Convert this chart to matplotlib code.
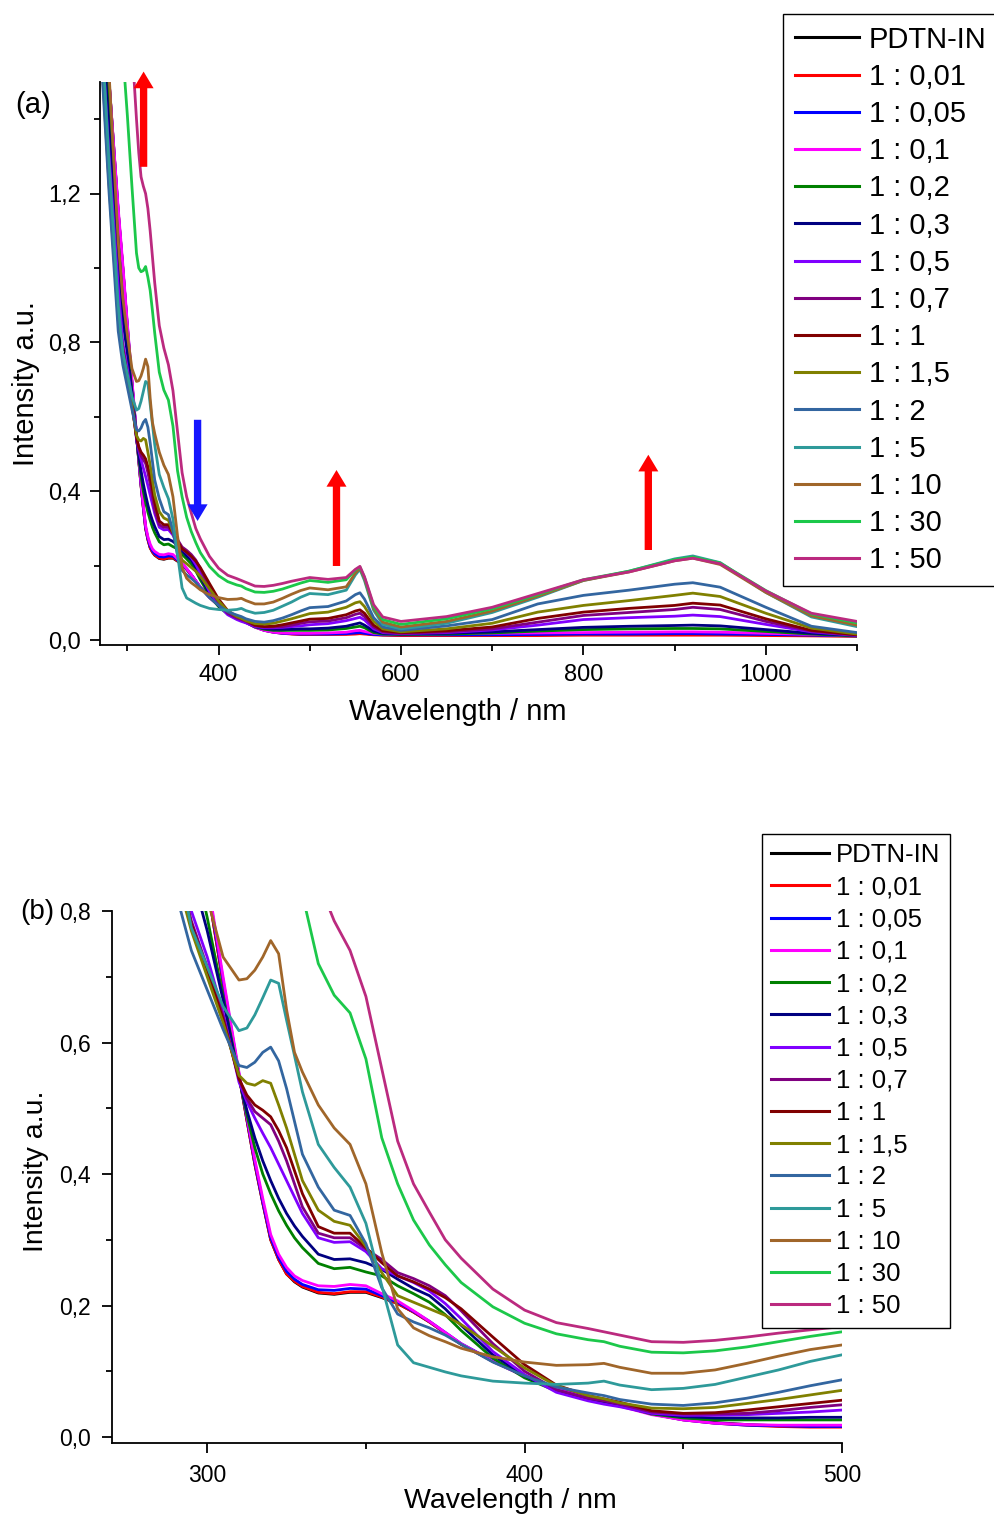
import matplotlib
matplotlib.use("Agg")
import matplotlib.pyplot as plt
from matplotlib.ticker import MultipleLocator, FuncFormatter

plt.rcParams['font.family'] = ['Liberation Sans', 'DejaVu Sans']

wavelength = [270, 280, 290, 295, 300, 305, 310, 312.5, 315, 317.5, 320, 322.5, 325, 327.5, 330,
              335, 340, 345, 350,
              355, 360, 365, 370, 375, 380, 390, 400, 410, 420, 425, 430, 440, 450, 460,
              470, 480, 490, 500, 520, 540, 550, 555, 560, 570, 580, 600, 650, 700, 750,
              800, 850, 900, 920, 950, 1000, 1050, 1100]

labels = ["PDTN-IN", "1 : 0,01", "1 : 0,05", "1 : 0,1", "1 : 0,2", "1 : 0,3", "1 : 0,5",
          "1 : 0,7", "1 : 1", "1 : 1,5", "1 : 2", "1 : 5", "1 : 10", "1 : 30", "1 : 50"]

colors = ["#000000", "#FF0000", "#0000FF", "#FF00FF", "#008000", "#000080", "#8000FF",
          "#800080", "#800000", "#808000", "#3366A0", "#2E9A9A", "#A0662A", "#1CC84A", "#BB2A7F"]

pdtn_in = [1.95, 1.50, 1.15, 1.00, 0.84, 0.69, 0.55, 0.482, 0.415, 0.356, 0.30, 0.27, 0.248, 0.236, 0.228,
           0.219, 0.217, 0.220, 0.220,
           0.212, 0.203, 0.19, 0.175, 0.158, 0.141, 0.115, 0.093, 0.074, 0.06, 0.054, 0.048, 0.036, 0.027, 0.022,
           0.019, 0.017, 0.016, 0.016, 0.016, 0.017, 0.018, 0.019, 0.018, 0.015, 0.014, 0.013, 0.013, 0.013, 0.014,
           0.015, 0.016, 0.017, 0.017, 0.016, 0.014, 0.012, 0.011]
r_0_01 = [1.95, 1.50, 1.15, 1.00, 0.84, 0.69, 0.55, 0.482, 0.415, 0.356, 0.30, 0.27, 0.248, 0.237, 0.229,
          0.220, 0.218, 0.221, 0.221,
          0.213, 0.203, 0.19, 0.175, 0.158, 0.141, 0.115, 0.093, 0.074, 0.06, 0.054, 0.048, 0.035, 0.026, 0.021,
          0.018, 0.016, 0.015, 0.015, 0.015, 0.015, 0.016, 0.017, 0.016, 0.014, 0.013, 0.012, 0.012, 0.012, 0.012,
          0.013, 0.013, 0.013, 0.013, 0.013, 0.012, 0.011, 0.010]
r_0_05 = [1.95, 1.50, 1.15, 1.00, 0.845, 0.695, 0.552, 0.485, 0.418, 0.358, 0.303, 0.273, 0.252, 0.24, 0.232,
          0.224, 0.223, 0.226, 0.225,
          0.215, 0.205, 0.191, 0.176, 0.159, 0.142, 0.116, 0.093, 0.074, 0.06, 0.054, 0.048, 0.035, 0.026, 0.021,
          0.018, 0.017, 0.016, 0.016, 0.016, 0.017, 0.019, 0.020, 0.018, 0.015, 0.014, 0.014, 0.014, 0.014, 0.015,
          0.016, 0.016, 0.017, 0.017, 0.016, 0.015, 0.013, 0.011]
r_0_1 = [1.95, 1.50, 1.16, 1.01, 0.85, 0.70, 0.555, 0.488, 0.422, 0.363, 0.308, 0.278, 0.258, 0.245, 0.238,
         0.230, 0.229, 0.232, 0.230,
         0.218, 0.207, 0.192, 0.176, 0.159, 0.142, 0.115, 0.092, 0.073, 0.059, 0.053, 0.047, 0.034, 0.026, 0.021,
         0.019, 0.018, 0.018, 0.018, 0.019, 0.021, 0.025, 0.026, 0.023, 0.018, 0.016, 0.016, 0.017, 0.018, 0.019,
         0.020, 0.021, 0.022, 0.022, 0.021, 0.018, 0.015, 0.012]
r_0_2 = [1.80, 1.42, 1.07, 0.90, 0.79, 0.67, 0.548, 0.49, 0.44, 0.40, 0.37, 0.344, 0.322, 0.303, 0.288,
         0.264, 0.256, 0.258, 0.251,
         0.245, 0.23, 0.218, 0.205, 0.186, 0.162, 0.12, 0.09, 0.07, 0.058, 0.054, 0.048, 0.035, 0.029, 0.026,
         0.026, 0.026, 0.026, 0.026, 0.027, 0.031, 0.035, 0.037, 0.033, 0.02, 0.016, 0.015, 0.016, 0.019, 0.024,
         0.028, 0.03, 0.031, 0.031, 0.03, 0.023, 0.016, 0.011]
r_0_3 = [1.75, 1.37, 1.02, 0.86, 0.77, 0.665, 0.545, 0.497, 0.455, 0.42, 0.39, 0.363, 0.34, 0.321, 0.305,
         0.278, 0.27, 0.271, 0.265,
         0.255, 0.24, 0.226, 0.215, 0.195, 0.17, 0.125, 0.093, 0.07, 0.058, 0.054, 0.048, 0.036, 0.031, 0.029,
         0.029, 0.029, 0.03, 0.03, 0.032, 0.037, 0.043, 0.046, 0.04, 0.024, 0.018, 0.016, 0.018, 0.022, 0.028,
         0.034, 0.037, 0.039, 0.04, 0.038, 0.028, 0.018, 0.012]
r_0_5 = [1.70, 1.30, 0.95, 0.80, 0.73, 0.645, 0.54, 0.51, 0.485, 0.462, 0.44, 0.415, 0.39, 0.365, 0.34,
         0.303, 0.296, 0.297, 0.282,
         0.256, 0.245, 0.235, 0.222, 0.203, 0.18, 0.13, 0.095, 0.068, 0.055, 0.05, 0.046, 0.036, 0.033, 0.033,
         0.034, 0.036, 0.038, 0.041, 0.044, 0.052, 0.058, 0.061, 0.054, 0.03, 0.02, 0.017, 0.02, 0.027, 0.04,
         0.055, 0.06, 0.064, 0.067, 0.063, 0.042, 0.022, 0.012]
r_0_7 = [1.68, 1.24, 0.88, 0.785, 0.715, 0.64, 0.545, 0.515, 0.495, 0.485, 0.475, 0.45, 0.42, 0.385, 0.35,
         0.31, 0.303, 0.303, 0.286,
         0.27, 0.25, 0.241, 0.23, 0.215, 0.192, 0.142, 0.10, 0.072, 0.059, 0.055, 0.05, 0.038, 0.035, 0.035,
         0.036, 0.04, 0.045, 0.049, 0.051, 0.06, 0.069, 0.072, 0.063, 0.035, 0.022, 0.018, 0.022, 0.03, 0.048,
         0.066, 0.074, 0.082, 0.088, 0.082, 0.05, 0.024, 0.013]
r_1 = [1.66, 1.23, 0.87, 0.78, 0.71, 0.635, 0.545, 0.52, 0.505, 0.497, 0.487, 0.466, 0.44, 0.405, 0.37,
       0.32, 0.31, 0.31, 0.288,
       0.265, 0.245, 0.236, 0.225, 0.212, 0.195, 0.152, 0.11, 0.079, 0.063, 0.058, 0.053, 0.04, 0.036, 0.037,
       0.041, 0.046, 0.051, 0.056, 0.058, 0.068, 0.078, 0.081, 0.072, 0.04, 0.025, 0.02, 0.025, 0.035, 0.058,
       0.075, 0.085, 0.093, 0.099, 0.094, 0.057, 0.026, 0.014]
r_1_5 = [1.64, 1.22, 0.86, 0.77, 0.70, 0.63, 0.55, 0.538, 0.535, 0.542, 0.538, 0.505, 0.47, 0.43, 0.39,
         0.345, 0.328, 0.322, 0.29,
         0.25, 0.215, 0.205, 0.195, 0.185, 0.171, 0.138, 0.105, 0.078, 0.063, 0.058, 0.052, 0.044, 0.043, 0.045,
         0.051, 0.057, 0.064, 0.071, 0.075, 0.088, 0.10, 0.103, 0.09, 0.05, 0.03, 0.022, 0.03, 0.045, 0.075,
         0.093, 0.106, 0.12, 0.126, 0.117, 0.072, 0.032, 0.016]
r_2 = [1.62, 1.20, 0.83, 0.74, 0.68, 0.62, 0.565, 0.562, 0.57, 0.585, 0.593, 0.572, 0.53, 0.48, 0.43,
       0.38, 0.345, 0.337, 0.294,
       0.227, 0.187, 0.175, 0.166, 0.155, 0.141, 0.114, 0.093, 0.076, 0.067, 0.063, 0.057, 0.05, 0.048, 0.052,
       0.059, 0.068, 0.078, 0.087, 0.09, 0.105, 0.122, 0.127, 0.11, 0.06, 0.035, 0.026, 0.038, 0.055, 0.097,
       0.12, 0.134, 0.15, 0.154, 0.142, 0.088, 0.037, 0.02]
r_5 = [1.72, 1.28, 0.90, 0.775, 0.715, 0.655, 0.618, 0.622, 0.642, 0.668, 0.695, 0.69, 0.634, 0.58, 0.525,
       0.445, 0.41, 0.38, 0.325,
       0.23, 0.14, 0.113, 0.106, 0.099, 0.093, 0.085, 0.082, 0.08, 0.082, 0.085, 0.079, 0.072, 0.074, 0.08,
       0.091, 0.102, 0.115, 0.125, 0.122, 0.134, 0.175, 0.19, 0.16, 0.08, 0.042, 0.03, 0.045, 0.074, 0.115,
       0.16, 0.185, 0.218, 0.226, 0.208, 0.128, 0.062, 0.036]
r_10 = [2.00, 1.52, 1.07, 0.92, 0.82, 0.73, 0.695, 0.697, 0.71, 0.73, 0.755, 0.735, 0.65, 0.585, 0.555,
        0.505, 0.47, 0.445, 0.385,
        0.28, 0.195, 0.166, 0.154, 0.145, 0.135, 0.122, 0.114, 0.109, 0.11, 0.112, 0.106, 0.097, 0.097, 0.102,
        0.112, 0.123, 0.133, 0.14, 0.135, 0.143, 0.18, 0.193, 0.165, 0.085, 0.048, 0.035, 0.05, 0.078, 0.118,
        0.16, 0.183, 0.213, 0.22, 0.203, 0.128, 0.065, 0.04]
r_30 = [2.30, 2.00, 1.70, 1.58, 1.41, 1.22, 1.04, 1.00, 0.99, 0.993, 1.004, 0.975, 0.94, 0.885, 0.825,
        0.72, 0.672, 0.645, 0.575,
        0.455, 0.385, 0.33, 0.292, 0.262, 0.235, 0.198, 0.173, 0.157, 0.148, 0.145, 0.138, 0.129, 0.128, 0.131,
        0.137, 0.145, 0.153, 0.16, 0.155, 0.162, 0.188, 0.196, 0.168, 0.09, 0.055, 0.042, 0.057, 0.084, 0.122,
        0.162, 0.185, 0.216, 0.223, 0.207, 0.133, 0.07, 0.046]
r_50 = [2.50, 2.20, 1.90, 1.75, 1.65, 1.60, 1.40, 1.31, 1.245, 1.22, 1.20, 1.16, 1.10, 1.03, 0.96,
        0.845, 0.785, 0.74, 0.67,
        0.56, 0.45, 0.385, 0.342, 0.30, 0.272, 0.225, 0.193, 0.174, 0.165, 0.16, 0.155, 0.145, 0.144, 0.147,
        0.152, 0.158, 0.163, 0.168, 0.163, 0.168, 0.19, 0.198, 0.17, 0.095, 0.062, 0.05, 0.063, 0.088, 0.125,
        0.162, 0.183, 0.213, 0.22, 0.205, 0.132, 0.072, 0.05]

series = [pdtn_in, r_0_01, r_0_05, r_0_1, r_0_2, r_0_3, r_0_5, r_0_7, r_1, r_1_5, r_2, r_5, r_10, r_30, r_50]

W, H = 995, 1519
fig = plt.figure(figsize=(W / 100, H / 100), dpi=100)

def rect(l, t, r, b):
    return [l / W, 1 - b / H, (r - l) / W, (b - t) / H]

comma1 = FuncFormatter(lambda v, p: ("%.1f" % v).replace('.', ','))

def style_axes(ax, fs, pad):
    for s in ['top', 'right']:
        ax.spines[s].set_visible(False)
    for s in ['left', 'bottom']:
        ax.spines[s].set_linewidth(1.3)
    ax.tick_params(which='major', direction='out', length=7, width=1.3, labelsize=fs, pad=pad)
    ax.tick_params(which='minor', direction='out', length=4, width=1.3)

# ---- panel (a)
ax1 = fig.add_axes(rect(100, 82, 857, 645))
for y, c, lab in zip(series, colors, labels):
    ax1.plot(wavelength, y, color=c, lw=2.0, label=lab, solid_joinstyle='round')
ax1.set_xlim(270, 1100)
ax1.set_ylim(-0.0134, 1.5)
ax1.xaxis.set_major_locator(MultipleLocator(200))
ax1.xaxis.set_minor_locator(MultipleLocator(100))
ax1.yaxis.set_major_locator(MultipleLocator(0.4))
ax1.yaxis.set_minor_locator(MultipleLocator(0.2))
ax1.yaxis.set_major_formatter(comma1)
style_axes(ax1, 17, 7)
ax1.set_xlabel("Wavelength / nm", fontsize=21)
ax1.set_ylabel("Intensity a.u.", fontsize=21)
ax1.xaxis.set_label_coords((458 - 100) / 757, -(698 - 645) / 563)
ax1.yaxis.set_label_coords((40 - 100) / 757, (645 - 384) / 563)

leg1 = ax1.legend(loc='upper left', bbox_to_anchor=(783 / W, 1 - 14 / H),
                  bbox_transform=fig.transFigure, fontsize=21, frameon=True,
                  fancybox=False, edgecolor='black', framealpha=1,
                  handlelength=2.2, handletextpad=0.35, labelspacing=0.315,
                  borderpad=0.4, borderaxespad=0)
leg1.get_frame().set_linewidth(1.0)
for l in leg1.get_lines():
    l.set_linewidth(2.2)

arrow_kw = dict(arrowstyle='simple,head_length=0.5,head_width=0.6,tail_width=0.22',
                shrinkA=0, shrinkB=0, mutation_scale=24)
for (xt, yt0, yt1, col) in [(317.8, 1.272, 1.528, '#FF0000'), (377, 0.592, 0.32, '#1515FF'),
                             (529.3, 0.199, 0.457, '#FF0000'), (871.2, 0.242, 0.498, '#FF0000')]:
    ax1.annotate('', xy=(xt, yt1), xytext=(xt, yt0), annotation_clip=False,
                 arrowprops=dict(fc=col, ec='none', **arrow_kw))

fig.text(33 / W, 1 - 105 / H, "(a)", fontsize=21, ha='center', va='center')

# ---- panel (b)
ax2 = fig.add_axes(rect(112, 911, 842, 1443))
for y, c, lab in zip(series, colors, labels):
    ax2.plot(wavelength, y, color=c, lw=2.0, label=lab, solid_joinstyle='round')
ax2.set_xlim(270, 500)
ax2.set_ylim(-0.0091, 0.8)
ax2.xaxis.set_major_locator(MultipleLocator(100))
ax2.xaxis.set_minor_locator(MultipleLocator(50))
ax2.yaxis.set_major_locator(MultipleLocator(0.2))
ax2.yaxis.set_minor_locator(MultipleLocator(0.1))
ax2.yaxis.set_major_formatter(comma1)
style_axes(ax2, 16.5, 8)
ax2.set_xlabel("Wavelength / nm", fontsize=20.5)
ax2.set_ylabel("Intensity a.u.", fontsize=20.5)
ax2.xaxis.set_label_coords((510 - 112) / 730, -(1488 - 1443) / 532)
ax2.yaxis.set_label_coords((49 - 112) / 730, (1443 - 1171) / 532)

leg2 = ax2.legend(loc='upper left', bbox_to_anchor=(762 / W, 1 - 834 / H),
                  bbox_transform=fig.transFigure, fontsize=18.5, frameon=True,
                  fancybox=False, edgecolor='black', framealpha=1,
                  handlelength=2.25, handletextpad=0.28, labelspacing=0.32,
                  borderpad=0.36, borderaxespad=0)
leg2.get_frame().set_linewidth(1.0)
for l in leg2.get_lines():
    l.set_linewidth(2.2)

fig.text(37 / W, 1 - 912 / H, "(b)", fontsize=20, ha='center', va='center')

fig.savefig("out.png", dpi=100)
